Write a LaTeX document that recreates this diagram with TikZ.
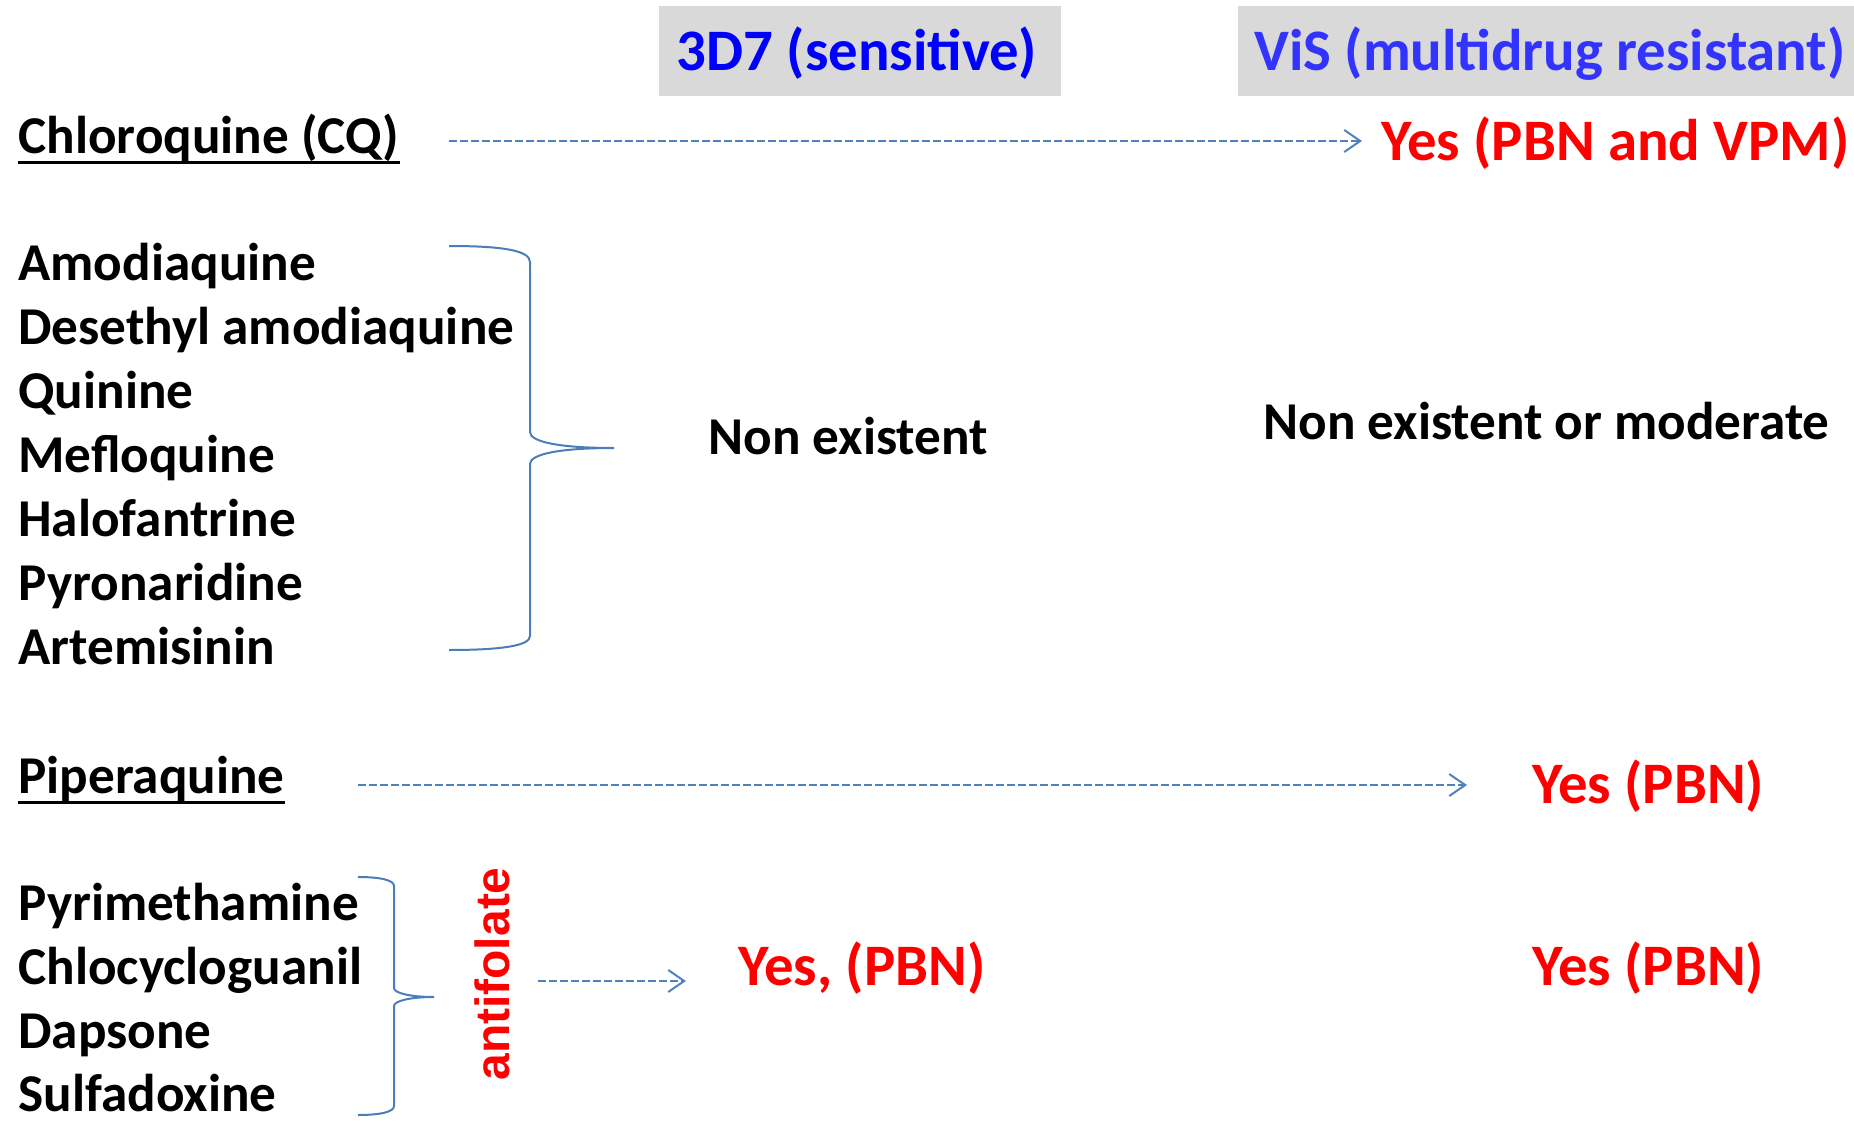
\documentclass[tikz,border=0pt]{standalone}
\usepackage{fontspec}
\setmainfont{Carlito}
\newfontfamily\arialfont{Liberation Sans}
\usetikzlibrary{arrows.meta,calc}
\definecolor{arrowblue}{HTML}{4F81BD}
\definecolor{bracecol}{HTML}{4A7EBB}
\definecolor{hdrgray}{HTML}{D9D9D9}
\definecolor{hblue}{HTML}{0000FF}
\definecolor{vblue}{HTML}{3333FF}
\definecolor{resred}{HTML}{FF0000}
\begin{document}
\begin{tikzpicture}[x=0.5pt,y=-0.5pt,
  body/.style={font=\bfseries\fontsize{26.6}{32}\selectfont, inner sep=0pt, anchor=base west},
  res/.style={font=\bfseries\fontsize{29.4}{35}\selectfont, inner sep=0pt, text=resred, anchor=base west},
  hdrbox/.style={fill=hdrgray, inner sep=0pt, minimum height=45pt},
  hdr/.style={font=\bfseries\fontsize{29.4}{35}\selectfont, inner sep=0pt, anchor=base},
  arr/.style={draw=arrowblue, line width=1pt, dash pattern=on 4pt off 1.5pt, -{Straight Barb[length=8pt,width=11pt,line width=1pt]}},
  brace/.style={draw=bracecol, line width=1pt},
  uline/.style={line width=1.5pt}
]
\useasboundingbox (0,0) rectangle (1854,1124);

% headers
\node[hdrbox, minimum width=201pt] (h1box) at (860,51) {};
\node[hdrbox, minimum width=308pt] (h2box) at (1546,51) {};
\node[hdr, text=hblue] (h1) at (857,70) {3D7 (sensitive)};
\node[hdr, text=vblue] (h2) at (1550,70) {ViS (multidrug resistant)};

% Chloroquine row
\node[body] (cq) at (18,153) {Chloroquine (CQ)};
\draw[uline] ($(cq.base west)+(0,9)$) -- ($(cq.base east)+(0,9)$);
\node[res] (ycq) at (1381,160) {Yes (PBN and VPM)};
\coordinate (a1s) at (449,141);
\coordinate (a1e) at (1362,141);
\draw[arr] (a1s) -- (a1e);

% group 1
\node[body] (d1) at (18,280) {Amodiaquine};
\node[body] (d2) at (18,344) {Desethyl amodiaquine};
\node[body] (d3) at (18,408) {Quinine};
\node[body] (d4) at (18,472) {Mefloquine};
\node[body] (d5) at (18,536) {Halofantrine};
\node[body] (d6) at (18,600) {Pyronaridine};
\node[body] (d7) at (18,664) {Artemisinin};
\coordinate (b1t) at (449,246);
\coordinate (b1m) at (614,448);
\coordinate (b1b) at (449,650);
\draw[brace] (b1t) .. controls (500,246) and (530,250) .. (530,262) -- (530,432)
  .. controls (530,442) and (560,448) .. (b1m)
  .. controls (560,448) and (530,454) .. (530,464) -- (530,636)
  .. controls (530,646) and (500,650) .. (b1b);
\node[body] (ne1) at (708,454) {Non existent};
\node[body] (ne2) at (1263,439) {Non existent or moderate};

% Piperaquine row
\node[body] (pq) at (18,793) {Piperaquine};
\draw[uline] ($(pq.base west)+(0,9)$) -- ($(pq.base east)+(0,9)$);
\node[res] (ypq) at (1532,803) {Yes (PBN)};
\coordinate (a2s) at (358,785);
\coordinate (a2e) at (1467,785);
\draw[arr] (a2s) -- (a2e);

% antifolates
\node[body] (f1) at (18,920) {Pyrimethamine};
\node[body] (f2) at (18,984) {Chlocycloguanil};
\node[body] (f3) at (18,1048) {Dapsone};
\node[body] (f4) at (18,1111) {Sulfadoxine};
\coordinate (b2t) at (358,877);
\coordinate (b2m) at (434,997);
\coordinate (b2b) at (358,1115);
\draw[brace] (b2t) .. controls (380,877) and (394,880) .. (394,886) -- (394,988)
  .. controls (394,993) and (410,997) .. (b2m)
  .. controls (410,997) and (394,1001) .. (394,1006) -- (394,1106)
  .. controls (394,1112) and (380,1115) .. (b2b);
\node[font=\arialfont\bfseries\fontsize{24}{29}\selectfont, text=resred, rotate=90, inner sep=0pt] (af) at (492,974) {antifolate};
\coordinate (a3s) at (538,981);
\coordinate (a3e) at (686,981);
\draw[arr] (a3s) -- (a3e);
\node[res] (yf1) at (738,985) {Yes, (PBN)};
\node[res] (yf2) at (1532,985) {Yes (PBN)};
\end{tikzpicture}
\end{document}
